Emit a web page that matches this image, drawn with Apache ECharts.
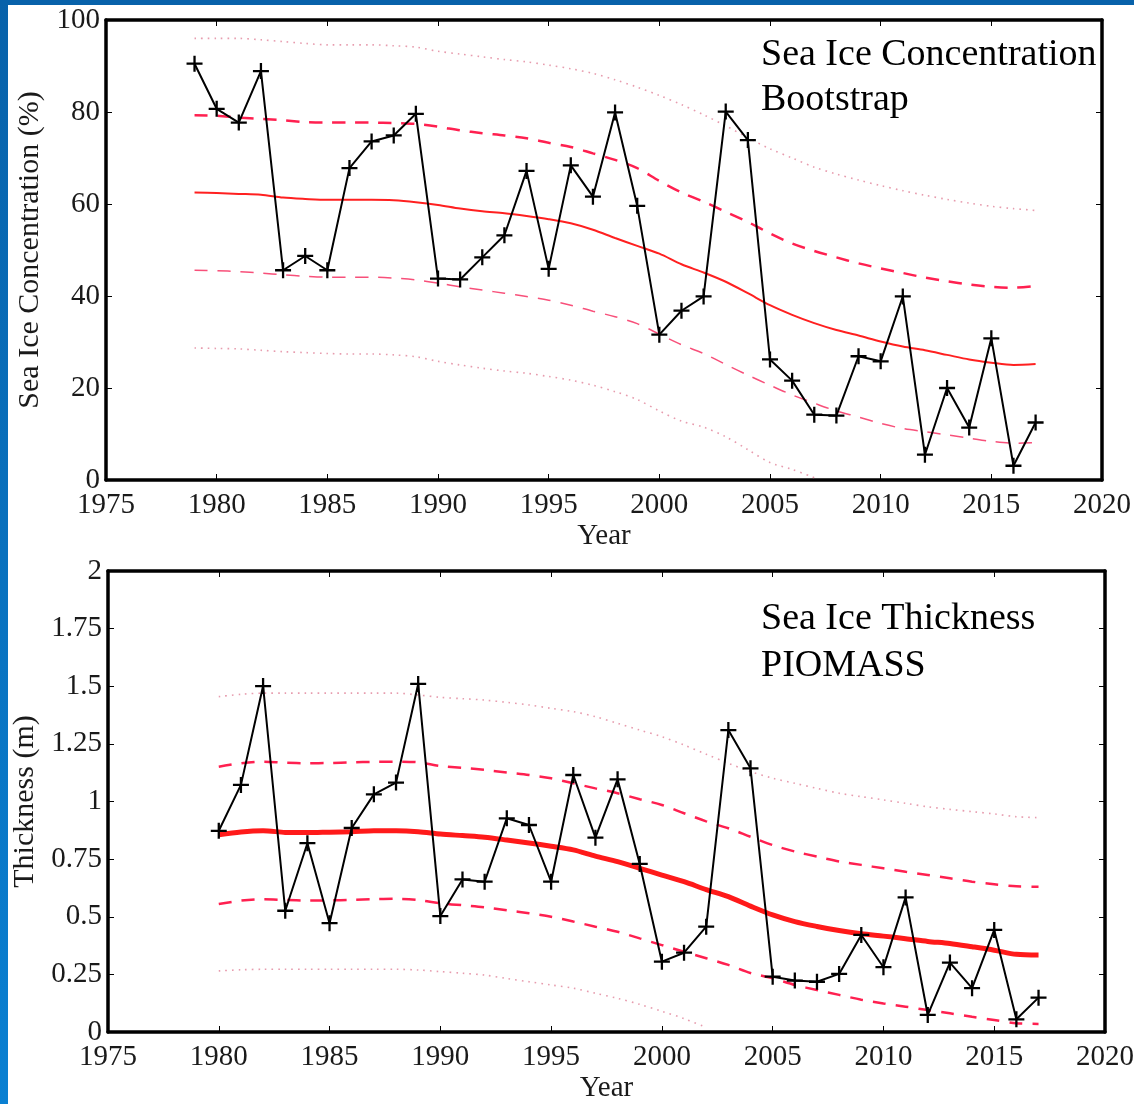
<!DOCTYPE html>
<html>
<head>
<meta charset="utf-8">
<title>Sea ice</title>
<script src="https://cdn.jsdelivr.net/npm/echarts@6/dist/echarts.min.js"></script>
<style>
  html, body { margin: 0; padding: 0; background: #fff; }
  #main { width: 1134px; height: 1104px; }
</style>
</head>
<body>
<div id="main"></div>
<script>
// top panel: concentration (%), Bootstrap
var conYears = [1979, 1980, 1981, 1982, 1983, 1984, 1985, 1986, 1987, 1988, 1989, 1990, 1991, 1992, 1993, 1994, 1995, 1996, 1997, 1998,
  1999, 2000, 2001, 2002, 2003, 2004, 2005, 2006, 2007, 2008, 2009, 2010, 2011, 2012, 2013, 2014, 2015, 2016, 2017];
var conObs = [90.5, 80.7, 77.7, 88.9, 45.6, 48.7, 45.6, 67.8, 73.6, 74.9, 79.6, 43.8, 43.6, 48.4, 53.2, 67.2, 45.9, 68.4, 61.6, 79.9,
  59.6, 31.6, 36.8, 39.9, 80.1, 73.9, 26.2, 21.6, 14.2, 14.0, 26.9, 25.8, 39.9, 5.5, 20.0, 11.4, 30.8, 3.1, 12.5];
var conMean = [62.5, 62.4, 62.2, 62.0, 61.4, 61.1, 60.9, 60.9, 60.9, 60.8, 60.4, 59.8, 59.0, 58.4, 58.0, 57.4, 56.7, 55.8, 54.4, 52.6,
  50.9, 49.2, 46.9, 45.1, 43.1, 40.6, 38.0, 35.9, 34.1, 32.6, 31.4, 30.1, 29.0, 28.2, 27.2, 26.2, 25.5, 25.0, 25.2];
var conUp1 = [79.3, 79.2, 78.8, 78.5, 78.2, 77.8, 77.7, 77.7, 77.7, 77.6, 77.4, 76.8, 76.0, 75.4, 74.9, 74.3, 73.3, 72.4, 71.0, 69.6,
  67.8, 65.0, 62.5, 60.5, 58.3, 56.1, 53.6, 51.4, 49.8, 48.4, 47.1, 46.0, 45.0, 44.0, 43.2, 42.5, 42.0, 41.8, 42.2];
var conLo1 = [45.6, 45.5, 45.3, 45.0, 44.6, 44.3, 44.1, 44.1, 44.1, 43.9, 43.5, 42.8, 42.0, 41.3, 40.6, 39.9, 39.1, 38.0, 36.7, 35.5,
  34.0, 31.7, 29.4, 27.5, 25.1, 22.8, 20.6, 18.5, 16.7, 15.0, 13.7, 12.3, 11.2, 10.5, 9.8, 9.1, 8.4, 8.0, 8.1];
var conUp2 = [96.0, 96.0, 96.0, 95.7, 95.3, 94.9, 94.6, 94.6, 94.6, 94.4, 94.1, 93.2, 92.6, 92.0, 91.4, 90.9, 90.2, 89.4, 88.4, 87.0,
  85.4, 83.6, 81.6, 79.4, 77.0, 74.4, 72.0, 70.0, 68.0, 66.5, 65.2, 64.0, 62.9, 61.9, 61.0, 60.2, 59.5, 59.0, 58.6];
var conLo2 = [28.7, 28.6, 28.5, 28.2, 27.9, 27.7, 27.5, 27.4, 27.4, 27.2, 26.8, 25.8, 25.0, 24.3, 23.7, 23.2, 22.5, 21.7, 20.6, 19.2,
  17.5, 15.0, 12.8, 11.5, 9.4, 6.6, 3.8, 2.3, 0.5];

// bottom panel: thickness (m), PIOMASS
var thkYears = [1980, 1981, 1982, 1983, 1984, 1985, 1986, 1987, 1988, 1989, 1990, 1991, 1992, 1993, 1994, 1995, 1996, 1997, 1998,
  1999, 2000, 2001, 2002, 2003, 2004, 2005, 2006, 2007, 2008, 2009, 2010, 2011, 2012, 2013, 2014, 2015, 2016, 2017];
var thkObs = [0.873, 1.072, 1.501, 0.526, 0.819, 0.472, 0.885, 1.031, 1.082, 1.51, 0.503, 0.662, 0.652, 0.927, 0.898, 0.652, 1.115, 0.843, 1.096,
  0.729, 0.305, 0.344, 0.457, 1.31, 1.144, 0.24, 0.223, 0.218, 0.252, 0.421, 0.281, 0.584, 0.074, 0.301, 0.19, 0.443, 0.055, 0.149];
var thkMean = [0.856, 0.868, 0.873, 0.866, 0.865, 0.867, 0.869, 0.873, 0.873, 0.869, 0.859, 0.852, 0.845, 0.833, 0.82, 0.806, 0.79, 0.763, 0.739,
  0.71, 0.681, 0.652, 0.618, 0.587, 0.546, 0.508, 0.479, 0.458, 0.44, 0.426, 0.416, 0.405, 0.393, 0.384, 0.37, 0.355, 0.337, 0.334];
var thkUp1 = [1.151, 1.166, 1.173, 1.168, 1.166, 1.167, 1.17, 1.172, 1.173, 1.17, 1.154, 1.146, 1.137, 1.126, 1.115, 1.101, 1.079, 1.057, 1.036,
  1.01, 0.985, 0.949, 0.914, 0.884, 0.847, 0.811, 0.783, 0.761, 0.74, 0.725, 0.71, 0.695, 0.681, 0.667, 0.652, 0.641, 0.632, 0.63];
var thkLo1 = [0.555, 0.57, 0.576, 0.573, 0.57, 0.571, 0.573, 0.576, 0.578, 0.573, 0.558, 0.55, 0.541, 0.528, 0.515, 0.5, 0.479, 0.457, 0.435,
  0.406, 0.377, 0.348, 0.32, 0.291, 0.256, 0.233, 0.204, 0.182, 0.161, 0.14, 0.124, 0.11, 0.095, 0.081, 0.066, 0.052, 0.038, 0.035];
var thkUp2 = [1.455, 1.465, 1.47, 1.47, 1.47, 1.47, 1.47, 1.47, 1.47, 1.462, 1.452, 1.446, 1.44, 1.43, 1.419, 1.404, 1.39, 1.368, 1.339,
  1.31, 1.281, 1.245, 1.205, 1.166, 1.13, 1.101, 1.079, 1.057, 1.036, 1.021, 1.007, 0.992, 0.977, 0.966, 0.956, 0.946, 0.934, 0.93];
var thkLo2 = [0.265, 0.27, 0.272, 0.272, 0.272, 0.272, 0.272, 0.272, 0.272, 0.269, 0.262, 0.255, 0.247, 0.232, 0.218, 0.204, 0.19, 0.168, 0.146,
  0.12, 0.09, 0.058, 0.02];

var xTicks = [1975, 1980, 1985, 1990, 1995, 2000, 2005, 2010, 2015, 2020];
var conTicks = [0, 20, 40, 60, 80, 100];
var thkTicks = [0, 0.25, 0.5, 0.75, 1, 1.25, 1.5, 1.75, 2];

var serif = "'Liberation Serif', 'DejaVu Serif', serif";

function pairs(xs, ys) {
  return ys.map(function (v, i) { return [xs[i], v]; });
}

// "+" marker
var plus = 'path://M0,6L14,6L14,8L0,8Z M6,0L8,0L8,14L6,14Z';

function xAxes(grid) {
  var base = {
    gridIndex: grid,
    type: 'value',
    min: xTicks[0],
    max: xTicks[xTicks.length - 1],
    interval: 5,
    splitLine: {show: false},
    axisLine: {onZero: false, lineStyle: {color: '#000', width: 3.5}},
    axisTick: {inside: true, length: 6, lineStyle: {color: '#000', width: 1}}
  };
  return [
    Object.assign({}, base, {
      position: 'bottom',
      axisLabel: {
        color: '#1a1a1a', fontFamily: serif, fontSize: 29, margin: 11,
        formatter: function (v) { return String(v); }
      },
      name: 'Year',
      nameLocation: 'middle',
      nameGap: 42,
      nameTextStyle: {color: '#1a1a1a', fontFamily: serif, fontSize: 29}
    }),
    Object.assign({}, base, {position: 'top', axisLabel: {show: false}})
  ];
}

function yAxes(grid, ticks, step, name, gap) {
  var base = {
    gridIndex: grid,
    type: 'value',
    min: ticks[0],
    max: ticks[ticks.length - 1],
    interval: step,
    splitLine: {show: false},
    axisLine: {onZero: false, lineStyle: {color: '#000', width: 3.5}},
    axisTick: {inside: true, length: 6, lineStyle: {color: '#000', width: 1}}
  };
  return [
    Object.assign({}, base, {
      position: 'left',
      axisLabel: {color: '#1a1a1a', fontFamily: serif, fontSize: 29, margin: 6},
      name: name,
      nameLocation: 'middle',
      nameGap: gap,
      nameRotate: 90,
      nameTextStyle: {color: '#1a1a1a', fontFamily: serif, fontSize: 30}
    }),
    Object.assign({}, base, {position: 'right', axisLabel: {show: false}})
  ];
}

function band(xIdx, yIdx, xs, ys, style) {
  return {
    type: 'line',
    xAxisIndex: xIdx,
    yAxisIndex: yIdx,
    data: pairs(xs, ys),
    showSymbol: false,
    smooth: 0.3,
    silent: true,
    lineStyle: style,
    z: 2
  };
}

function obs(xIdx, yIdx, xs, ys) {
  return {
    type: 'line',
    xAxisIndex: xIdx,
    yAxisIndex: yIdx,
    data: pairs(xs, ys),
    symbol: plus,
    symbolSize: 16,
    itemStyle: {color: '#000'},
    lineStyle: {color: '#000', width: 2},
    z: 5
  };
}

var dotStyle = {color: 'rgba(215, 90, 120, 0.6)', width: 1.6, type: [1.6, 5]};
var dashRed = '#ff2050';

let myChart = echarts.init(document.getElementById('main'));
myChart.setOption({
  backgroundColor: '#fff',
  animation: false,
  title: [
    {
      text: 'Sea Ice Concentration\nBootstrap',
      left: 756, top: 28,
      textStyle: {fontFamily: serif, fontSize: 38, fontWeight: 'normal', color: '#000', lineHeight: 45}
    },
    {
      text: 'Sea Ice Thickness\nPIOMASS',
      left: 756, top: 591,
      textStyle: {fontFamily: serif, fontSize: 38, fontWeight: 'normal', color: '#000', lineHeight: 47}
    }
  ],
  graphic: [
    {type: 'rect', left: 0, top: 0, shape: {width: 1134, height: 5}, style: {fill: '#0862aa'}, z: 100},
    {
      type: 'rect', left: 0, top: 0, shape: {width: 8, height: 1104},
      style: {fill: new echarts.graphic.LinearGradient(0, 0, 0, 1, [
        {offset: 0, color: '#0862aa'}, {offset: 1, color: '#0a80d2'}
      ])},
      z: 100
    }
  ],
  grid: [
    {left: 106, top: 20, width: 996, height: 460, outerBoundsMode: 'none'},
    {left: 108, top: 571, width: 997, height: 461, outerBoundsMode: 'none'}
  ],
  xAxis: xAxes(0).concat(xAxes(1)),
  yAxis: yAxes(0, conTicks, 20, 'Sea Ice Concentration (%)', 61)
    .concat(yAxes(1, thkTicks, 0.25, 'Thickness (m)', 67)),
  series: [
    band(0, 0, conYears, conUp2, dotStyle),
    band(0, 0, conYears, conLo2, dotStyle),
    band(0, 0, conYears, conUp1, {color: dashRed, width: 2.5, type: [13, 10]}),
    band(0, 0, conYears, conLo1, {color: '#f8507a', width: 1.5, type: [13, 10]}),
    band(0, 0, conYears, conMean, {color: '#ff2020', width: 2}),
    obs(0, 0, conYears, conObs),

    band(2, 2, thkYears, thkUp2, dotStyle),
    band(2, 2, thkYears, thkLo2, dotStyle),
    band(2, 2, thkYears, thkUp1, {color: dashRed, width: 2.5, type: [13, 10]}),
    band(2, 2, thkYears, thkLo1, {color: dashRed, width: 2.5, type: [13, 10]}),
    band(2, 2, thkYears, thkMean, {color: '#ff1a1a', width: 5}),
    obs(2, 2, thkYears, thkObs)
  ]
});
window.onresize = myChart.resize;
</script>
</body>
</html>
